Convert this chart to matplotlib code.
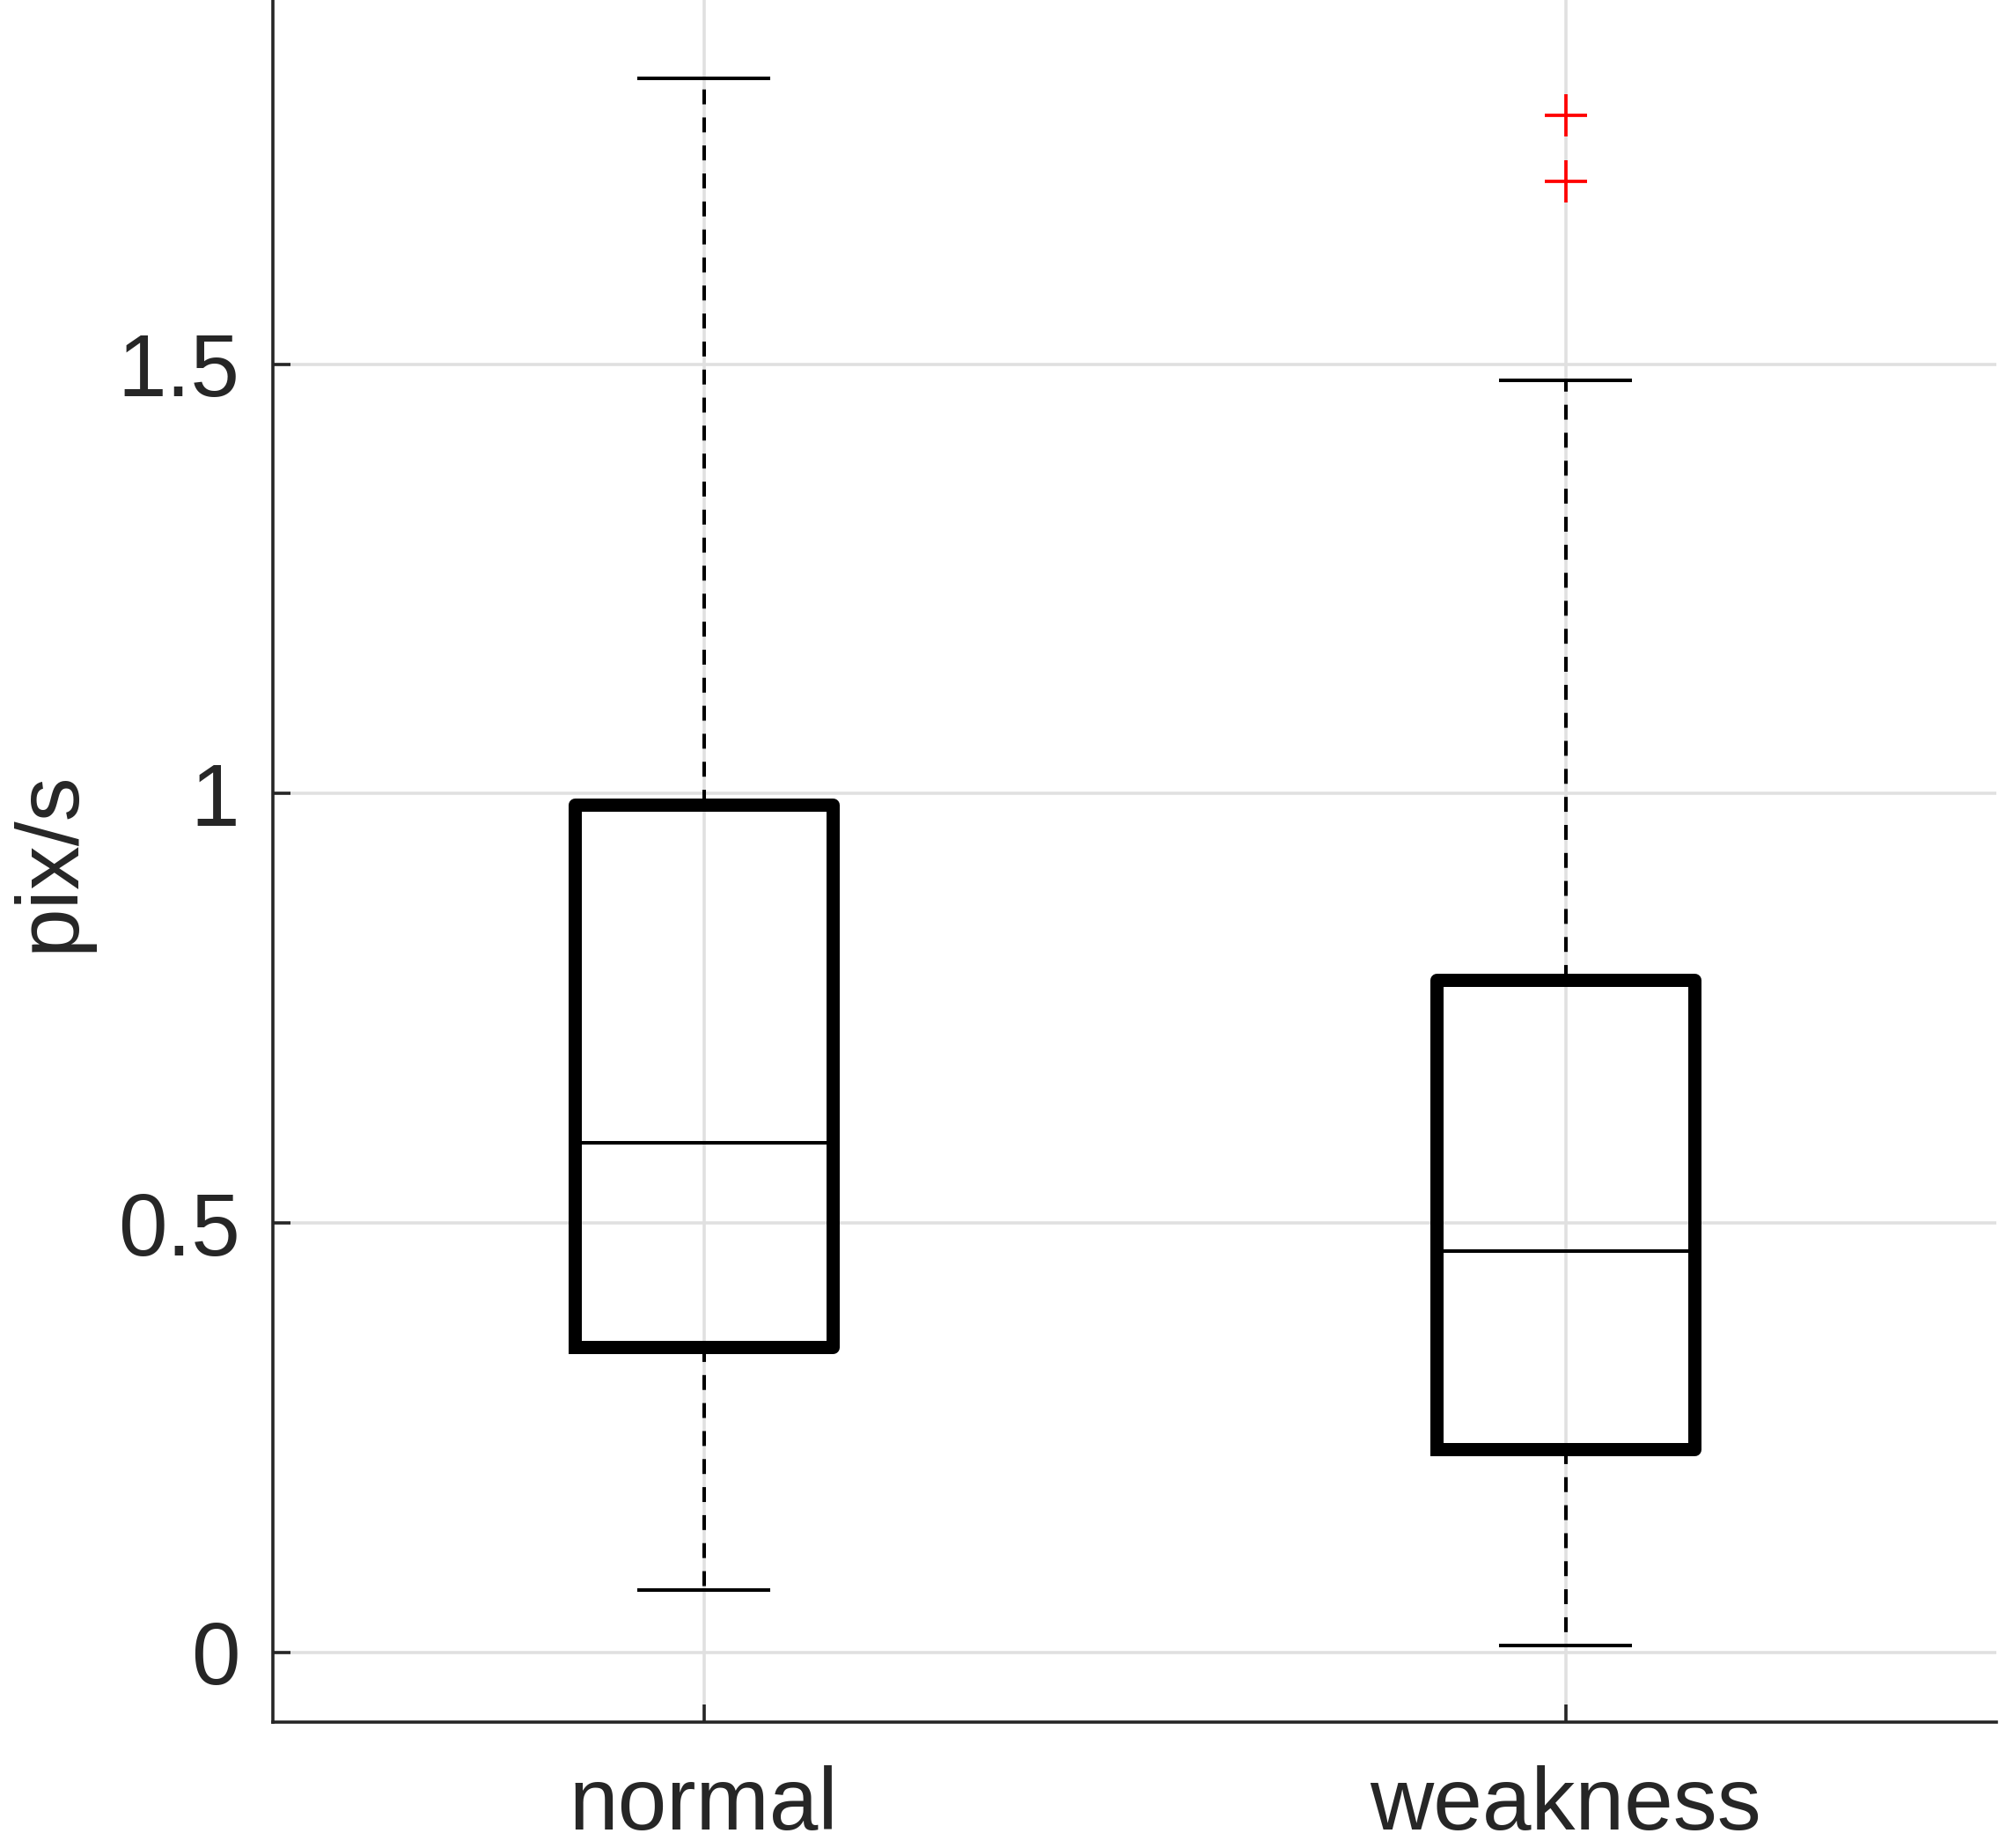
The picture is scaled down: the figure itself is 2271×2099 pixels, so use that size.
"""
Box plot of pix/s for the normal and weakness groups.
"""
import matplotlib
matplotlib.use("Agg")
import matplotlib.pyplot as plt

# values
groups = ['normal', 'weakness']
q1 = [0.356, 0.237]
medians = [0.593, 0.467]
q3 = [0.987, 0.783]
whisker_low = [0.073, 0.008]
whisker_high = [1.833, 1.481]
outliers = [[], [1.790, 1.713]]

y_ticks = [0, 0.5, 1, 1.5]
y_tick_labels = ['0', '0.5', '1', '1.5']

TEXT = '#262626'
GRID = '#e0e0e0'

plt.rcParams['font.family'] = ['Liberation Sans', 'DejaVu Sans']


def build_stats():
    stats = []
    for i, name in enumerate(groups):
        stats.append({
            'label': name,
            'q1': q1[i],
            'med': medians[i],
            'q3': q3[i],
            'whislo': whisker_low[i],
            'whishi': whisker_high[i],
            'fliers': outliers[i],
        })
    return stats


def plot_box():
    fig = plt.figure(figsize=(22.71, 20.99), dpi=100)
    ax = fig.add_axes([310 / 2271, 143 / 2099, 1958 / 2271, 1956 / 2099])

    ax.bxp(build_stats(), positions=[1, 2], widths=0.3,
           boxprops=dict(color='black', linewidth=10.8, solid_joinstyle='round'),
           whiskerprops=dict(color='black', linewidth=2.9, linestyle=(0, (4.2, 3.7))),
           capprops=dict(color='black', linewidth=2.9),
           medianprops=dict(color='black', linewidth=2.9),
           flierprops=dict(marker='+', markeredgecolor='red', markersize=35,
                           markeredgewidth=2.7, linestyle='none'),
           zorder=3)

    ax.set_xlim(0.5, 2.5)
    ax.set_ylim(-0.081, 1.924)
    ax.set_xticks([1, 2])
    ax.set_xticklabels(groups)
    ax.set_yticks(y_ticks)
    ax.set_yticklabels(y_tick_labels)

    ax.grid(True, color=GRID, linewidth=2.6, zorder=0)
    ax.set_axisbelow(True)

    for side in ['top', 'right']:
        ax.spines[side].set_visible(False)
    for side in ['left', 'bottom']:
        ax.spines[side].set_color(TEXT)
        ax.spines[side].set_linewidth(2.6)

    ax.tick_params(axis='both', direction='in', length=14.4, width=2.6,
                   color=TEXT, labelcolor=TEXT, labelsize=72)
    # a bit less pad than the reference so the labels stay inside the image
    ax.tick_params(axis='x', pad=35)
    ax.tick_params(axis='y', pad=27)

    ax.set_ylabel('pix/s', fontsize=72, color=TEXT)
    ax.yaxis.set_label_coords(-0.105, 0.5)

    fig.savefig('out.png', dpi=100)


def main():
    plot_box()


if __name__ == "__main__":
    main()
